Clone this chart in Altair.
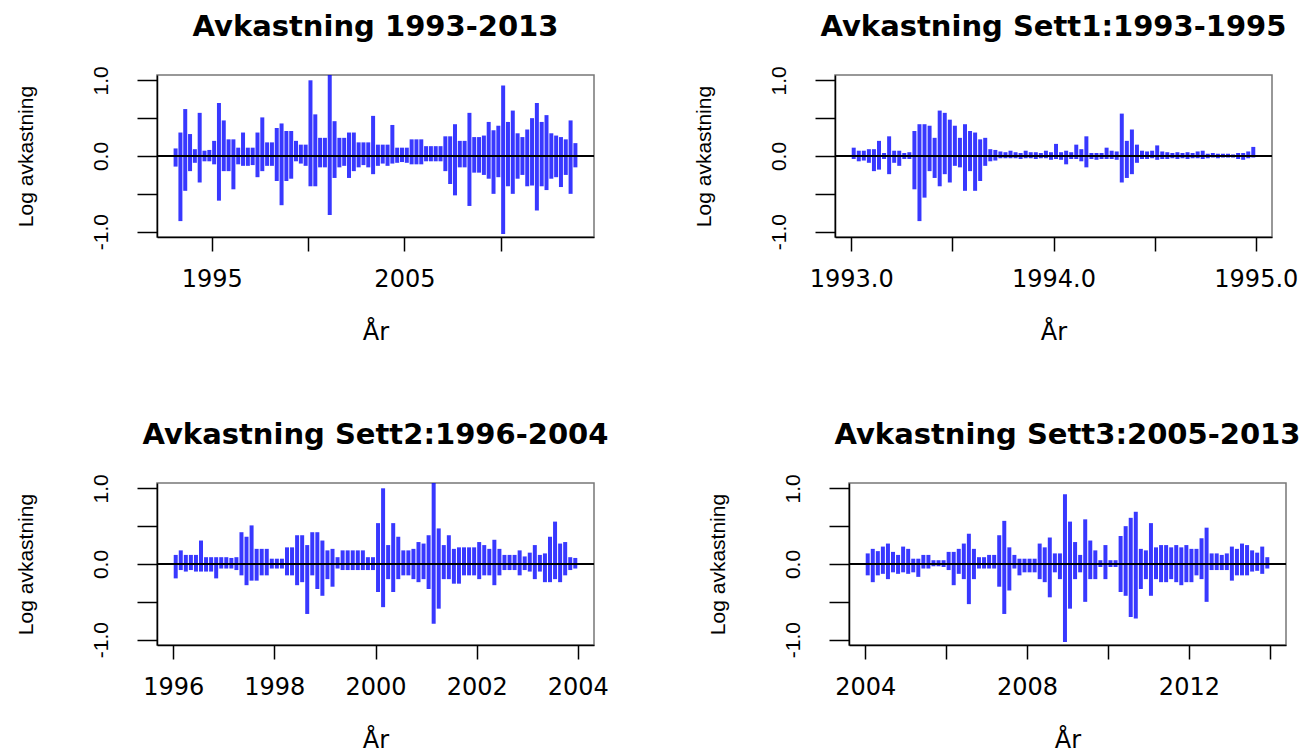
import altair as alt
import pandas as pd

# ---------------- data (bin extremes) ----------------
# Panel 1: Avkastning 1993-2013, bins of 0.25 year starting 1993.0
p1_start, p1_step = 1993.0, 0.25
p1_up = [0.10, 0.31, 0.62, 0.29,  0.09, 0.57, 0.07, 0.08,  0.20, 0.70, 0.47, 0.22,
         0.22, 0.11, 0.31, 0.11,  0.11, 0.31, 0.51, 0.18,  0.18, 0.37, 0.43, 0.33,
         0.33, 0.20, 0.15, 0.15,  1.00, 0.55, 0.24, 0.24,  1.07, 0.46, 0.24, 0.24,
         0.31, 0.31, 0.18, 0.18,  0.18, 0.53, 0.15, 0.15,  0.15, 0.41, 0.11, 0.11,
         0.11, 0.22, 0.22, 0.22,  0.13, 0.13, 0.13, 0.13,  0.26, 0.26, 0.42, 0.20,
         0.20, 0.57, 0.25, 0.25,  0.27, 0.45, 0.34, 0.40,  0.93, 0.45, 0.60, 0.30,
         0.25, 0.35, 0.50, 0.70,  0.45, 0.54, 0.30, 0.27,  0.25, 0.22, 0.47, 0.17]
p1_dn = [-0.14, -0.86, -0.46, -0.20,  -0.09, -0.35, -0.07, -0.07,  -0.11, -0.59, -0.20, -0.20,
         -0.44, -0.11, -0.13, -0.13,  -0.12, -0.28, -0.20, -0.13,  -0.13, -0.33, -0.65, -0.33,
         -0.30, -0.07, -0.10, -0.13,  -0.40, -0.40, -0.15, -0.15,  -0.78, -0.29, -0.15, -0.13,
         -0.29, -0.20, -0.15, -0.12,  -0.15, -0.24, -0.13, -0.10,  -0.13, -0.10, -0.09, -0.08,
         -0.09, -0.11, -0.11, -0.11,  -0.07, -0.07, -0.07, -0.07,  -0.20, -0.37, -0.52, -0.15,
         -0.15, -0.66, -0.22, -0.22,  -0.25, -0.30, -0.50, -0.28,  -1.03, -0.40, -0.50, -0.30,
         -0.25, -0.40, -0.39, -0.72,  -0.40, -0.45, -0.30, -0.28,  -0.41, -0.25, -0.50, -0.15]

# Panel 2: Sett1 1993-1995, bins of 0.025 year starting 1993.0
p2_start, p2_step = 1993.0, 0.025
p2_up = [0.11, 0.07, 0.07, 0.09, 0.09, 0.20, 0.04, 0.26, 0.07, 0.07,
         0.04, 0.05, 0.33, 0.42, 0.42, 0.40, 0.24, 0.60, 0.57, 0.48,
         0.40, 0.24, 0.42, 0.33, 0.31, 0.22, 0.24, 0.09, 0.08, 0.06,
         0.05, 0.07, 0.05, 0.04, 0.07, 0.05, 0.05, 0.04, 0.07, 0.05,
         0.16, 0.05, 0.07, 0.05, 0.15, 0.09, 0.26, 0.04, 0.04, 0.04,
         0.11, 0.07, 0.06, 0.56, 0.20, 0.35, 0.15, 0.07, 0.06, 0.07,
         0.14, 0.06, 0.05, 0.04, 0.05, 0.04, 0.05, 0.04, 0.06, 0.07,
         0.03, 0.04, 0.03, 0.03, 0.03, 0.02, 0.04, 0.04, 0.06, 0.12]
p2_dn = [-0.04, -0.07, -0.06, -0.09, -0.20, -0.18, -0.04, -0.24, -0.09, -0.13,
         -0.04, -0.04, -0.44, -0.86, -0.55, -0.20, -0.29, -0.40, -0.24, -0.35,
         -0.13, -0.15, -0.46, -0.20, -0.46, -0.33, -0.13, -0.07, -0.06, -0.03,
         -0.03, -0.03, -0.03, -0.04, -0.03, -0.03, -0.04, -0.03, -0.03, -0.05,
         -0.04, -0.05, -0.11, -0.04, -0.04, -0.07, -0.15, -0.04, -0.05, -0.04,
         -0.04, -0.04, -0.05, -0.35, -0.29, -0.24, -0.09, -0.04, -0.04, -0.03,
         -0.05, -0.04, -0.04, -0.03, -0.04, -0.03, -0.04, -0.03, -0.03, -0.04,
         -0.03, -0.02, -0.03, -0.02, -0.02, -0.02, -0.04, -0.05, -0.03, -0.02]

# Panel 3: Sett2 1996-2004, bins of 0.1 year starting 1996.0
p3_start, p3_step = 1996.0, 0.1
p3_up = [0.12, 0.18, 0.12, 0.12, 0.12, 0.31, 0.09, 0.09, 0.09, 0.09,
         0.09, 0.08, 0.09, 0.42, 0.36, 0.51, 0.20, 0.20, 0.20, 0.07,
         0.07, 0.07, 0.22, 0.22, 0.38, 0.38, 0.25, 0.42, 0.42, 0.31,
         0.18, 0.20, 0.09, 0.18, 0.18, 0.18, 0.18, 0.18, 0.09, 0.09,
         0.54, 1.00, 0.25, 0.54, 0.36, 0.18, 0.18, 0.20, 0.29, 0.27,
         0.38, 1.08, 0.47, 0.25, 0.38, 0.20, 0.22, 0.22, 0.22, 0.22,
         0.29, 0.25, 0.20, 0.32, 0.20, 0.12, 0.12, 0.12, 0.18, 0.10,
         0.15, 0.25, 0.12, 0.14, 0.36, 0.56, 0.27, 0.29, 0.09, 0.08]
p3_dn = [-0.19, -0.08, -0.10, -0.08, -0.10, -0.10, -0.10, -0.10, -0.19, -0.06,
         -0.06, -0.06, -0.08, -0.15, -0.28, -0.22, -0.22, -0.15, -0.15, -0.06,
         -0.06, -0.06, -0.15, -0.15, -0.28, -0.24, -0.66, -0.15, -0.33, -0.42,
         -0.20, -0.30, -0.06, -0.08, -0.08, -0.08, -0.08, -0.08, -0.08, -0.08,
         -0.37, -0.57, -0.20, -0.37, -0.20, -0.15, -0.15, -0.20, -0.24, -0.20,
         -0.33, -0.79, -0.59, -0.20, -0.20, -0.26, -0.26, -0.15, -0.15, -0.15,
         -0.20, -0.15, -0.15, -0.28, -0.15, -0.08, -0.08, -0.08, -0.15, -0.08,
         -0.10, -0.20, -0.10, -0.24, -0.24, -0.20, -0.24, -0.15, -0.08, -0.06]

# Panel 4: Sett3 2005-2013 (axis 2004-2014), bins of 0.125 year starting 2004.0
p4_start, p4_step = 2004.0, 0.125
p4_up = [0.14, 0.20, 0.17, 0.23, 0.27, 0.16, 0.12, 0.23,
         0.20, 0.07, 0.07, 0.12, 0.12, 0.05, 0.05, 0.05,
         0.16, 0.16, 0.20, 0.27, 0.40, 0.20, 0.09, 0.09,
         0.12, 0.12, 0.38, 0.57, 0.22, 0.12, 0.07, 0.07,
         0.07, 0.07, 0.27, 0.22, 0.35, 0.14, 0.14, 0.92,
         0.56, 0.29, 0.12, 0.59, 0.31, 0.18, 0.05, 0.25,
         0.05, 0.05, 0.37, 0.50, 0.61, 0.69, 0.20, 0.18,
         0.54, 0.22, 0.25, 0.25, 0.22, 0.25, 0.22, 0.25,
         0.20, 0.20, 0.34, 0.48, 0.14, 0.14, 0.12, 0.14,
         0.23, 0.20, 0.27, 0.25, 0.18, 0.15, 0.23, 0.09]
p4_dn = [-0.15, -0.24, -0.15, -0.13, -0.20, -0.11, -0.13, -0.11,
         -0.13, -0.11, -0.17, -0.06, -0.06, -0.03, -0.03, -0.04,
         -0.08, -0.28, -0.13, -0.20, -0.53, -0.20, -0.06, -0.06,
         -0.06, -0.06, -0.30, -0.66, -0.35, -0.06, -0.15, -0.11,
         -0.11, -0.11, -0.20, -0.24, -0.44, -0.11, -0.20, -1.03,
         -0.59, -0.20, -0.11, -0.50, -0.20, -0.20, -0.04, -0.20,
         -0.04, -0.04, -0.37, -0.42, -0.70, -0.72, -0.33, -0.20,
         -0.42, -0.20, -0.24, -0.24, -0.20, -0.24, -0.28, -0.24,
         -0.24, -0.15, -0.20, -0.50, -0.08, -0.08, -0.08, -0.08,
         -0.22, -0.15, -0.15, -0.15, -0.10, -0.09, -0.13, -0.06]

titles = ["Avkastning 1993-2013", "Avkastning Sett1:1993-1995",
          "Avkastning Sett2:1996-2004", "Avkastning Sett3:2005-2013"]
x_domains = [[1992.16, 2014.84], [1992.92, 1995.08], [1995.68, 2004.32], [2003.6, 2014.4]]
x_ticks = [[1995, 2000, 2005, 2010], [1993.0, 1993.5, 1994.0, 1994.5, 1995.0],
           [1996, 1998, 2000, 2002, 2004], [2004, 2006, 2008, 2010, 2012, 2014]]
x_labels = [{1995: "1995", 2005: "2005"},
            {1993.0: "1993.0", 1994.0: "1994.0", 1995.0: "1995.0"},
            {1996: "1996", 1998: "1998", 2000: "2000", 2002: "2002", 2004: "2004"},
            {2004: "2004", 2008: "2008", 2012: "2012"}]
y_ticks = [-1.0, -0.5, 0.0, 0.5, 1.0]

W, H = 437, 162


def label_expr(mapping):
    expr = "''"
    for v, s in reversed(list(mapping.items())):
        expr = f"datum.value == {v} ? '{s}' : ({expr})"
    return expr


def panel(start, step, up, dn, title, xdom, xt, xl):
    assert len(up) == len(dn)
    df = pd.DataFrame({
        "t": [start + (i + 0.5) * step for i in range(len(up))],
        "hi": up,
        "lo": dn,
    })

    x = alt.X("t:Q", scale=alt.Scale(domain=xdom, nice=False, zero=False),
              axis=alt.Axis(values=xt, labelExpr=label_expr(xl), labelFont="DejaVu Sans",
                            labelFontSize=24, labelColor="black", labelPadding=16,
                            labelAngle=0, labelOverlap=False, labelFlush=False,
                            tickSize=14, tickColor="black", tickWidth=1.5,
                            domainColor="black", domainWidth=1.5, grid=False,
                            title="År", titleFont="DejaVu Sans", titleFontSize=24,
                            titleFontWeight="normal", titleColor="black",
                            titleBaseline="alphabetic", titleAlign="center",
                            titleX=W / 2, titleY=102))
    y = alt.Y("hi:Q", scale=alt.Scale(domain=[-1.07, 1.07], nice=False, zero=False),
              axis=alt.Axis(values=y_ticks,
                            labelExpr="datum.value == 1 ? '1.0' : (datum.value == 0 ? '0.0' : (datum.value == -1 ? '-1.0' : ''))",
                            labelFont="Liberation Sans", labelFontSize=21, labelColor="black",
                            labelAngle=270, labelAlign="center", labelBaseline="alphabetic",
                            labelPadding=30, labelOverlap=False, labelFlush=False,
                            tickSize=20, tickColor="black", tickWidth=1.5,
                            domainColor="black", domainWidth=1.5, grid=False,
                            title="Log avkastning", titleFont="Liberation Sans",
                            titleFontSize=21, titleFontWeight="normal", titleColor="black",
                            titleAngle=270, titleBaseline="alphabetic", titleAlign="center",
                            titleX=-124.5, titleY=H / 2))

    series = alt.Chart(df).mark_rule(color="#0000ff", strokeWidth=4, opacity=0.78,
                                     clip=True).encode(x=x, y=y, y2="lo:Q")
    zero = alt.Chart(pd.DataFrame({"hi": [0.0]})).mark_rule(
        color="black", strokeWidth=2).encode(y="hi:Q")
    return alt.layer(series, zero).properties(
        width=W, height=H,
        title=alt.TitleParams(title, font="DejaVu Sans", fontSize=29, fontWeight="bold",
                              color="black", anchor="middle", frame="group",
                              baseline="alphabetic", offset=1))


c1 = panel(p1_start, p1_step, p1_up, p1_dn, titles[0], x_domains[0], x_ticks[0], x_labels[0])
c2 = panel(p2_start, p2_step, p2_up, p2_dn, titles[1], x_domains[1], x_ticks[1], x_labels[1])
c3 = panel(p3_start, p3_step, p3_up, p3_dn, titles[2], x_domains[2], x_ticks[2], x_labels[2])
c4 = panel(p4_start, p4_step, p4_up, p4_dn, titles[3], x_domains[3], x_ticks[3], x_labels[3])

chart = alt.vconcat(
    alt.hconcat(c1, c2, spacing=96),
    alt.hconcat(c3, c4, spacing=96),
    spacing=74,
).properties(
    padding={"left": 6, "top": 3, "right": 0, "bottom": 0},
    background="white",
).configure_view(stroke="#777777", strokeWidth=1.5)

chart.save("out.html", embed_options={"renderer": "svg", "actions": False})
